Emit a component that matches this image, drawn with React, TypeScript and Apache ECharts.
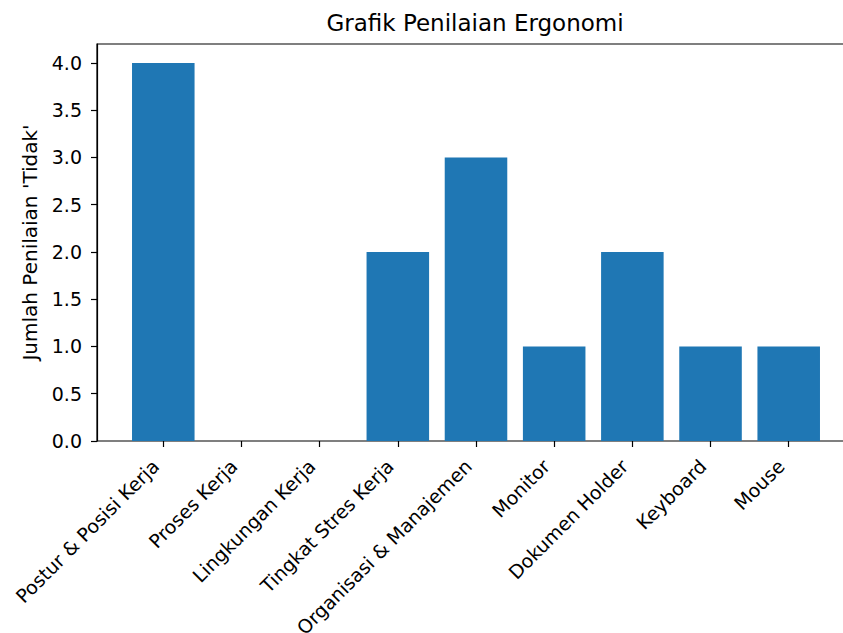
import React, { useEffect, useRef } from 'react';
import * as echarts from 'echarts';

const categories = [
  'Postur & Posisi Kerja',
  'Proses Kerja',
  'Lingkungan Kerja',
  'Tingkat Stres Kerja',
  'Organisasi & Manajemen',
  'Monitor',
  'Dokumen Holder',
  'Keyboard',
  'Mouse',
];
const tidakCounts = [4, 0, 0, 2, 3, 1, 2, 1, 1];
const yTicks = [0, 0.5, 1, 1.5, 2, 2.5, 3, 3.5, 4];
const yMax = 4.2;
const titleText = 'Grafik Penilaian Ergonomi';
const yAxisTitle = "Jumlah Penilaian 'Tidak'";

export default function App() {
  const ref = useRef<HTMLDivElement>(null);
  useEffect(() => {
    document.body.style.margin = '0';
    const chart = echarts.init(ref.current as HTMLDivElement, null, { renderer: 'svg' });
    const font = 'DejaVu Sans';
    const lineStyle = { color: '#000', width: 1.2 };
    chart.setOption({
      animation: false,
      backgroundColor: '#fff',
      title: {
        text: titleText,
        left: 475,
        top: 11,
        padding: 0,
        textAlign: 'center',
        textStyle: { fontFamily: font, fontSize: 23, fontWeight: 'normal', color: '#000' },
      },
      grid: [
        { left: 97, top: 44, width: 757, height: 397, show: true, borderColor: '#000', borderWidth: 1.2, backgroundColor: 'transparent', containLabel: false, outerBoundsMode: 'none' },
        { left: 124.2, top: 44, width: 703.6, height: 397, containLabel: false, outerBoundsMode: 'none' },
      ],
      xAxis: [
        { type: 'value', gridIndex: 0, min: 0, max: 1, show: false },
        {
          type: 'category',
          gridIndex: 1,
          data: categories,
          axisLine: { show: false },
          axisTick: { show: true, alignWithLabel: true, length: 6, lineStyle },
          axisLabel: { rotate: 45, margin: 14, padding: [0, 11, 0, 0], fontFamily: font, fontSize: 19, color: '#000', interval: 0 },
          splitLine: { show: false },
        },
      ],
      yAxis: [
        {
          type: 'value',
          gridIndex: 0,
          min: 0,
          max: yMax,
          name: yAxisTitle,
          nameLocation: 'middle',
          nameGap: 57,
          nameTextStyle: { fontFamily: font, fontSize: 20, color: '#000' },
          axisLine: { show: true, lineStyle },
          axisTick: { show: true, length: 6, customValues: yTicks, lineStyle },
          axisLabel: {
            customValues: yTicks,
            formatter: (v: number) => v.toFixed(1),
            margin: 15,
            fontFamily: font,
            fontSize: 19,
            color: '#000',
          },
          splitLine: { show: false },
        },
        { type: 'value', gridIndex: 1, min: 0, max: yMax, show: false },
      ],
      series: [
        {
          type: 'bar',
          xAxisIndex: 1,
          yAxisIndex: 1,
          data: tidakCounts,
          barWidth: '80%',
          itemStyle: { color: '#1f77b4' },
        },
      ],
    });
    return () => chart.dispose();
  }, []);
  return <div ref={ref} style={{ position: 'fixed', left: 0, top: 0, width: 843, height: 633 }} />;
}
